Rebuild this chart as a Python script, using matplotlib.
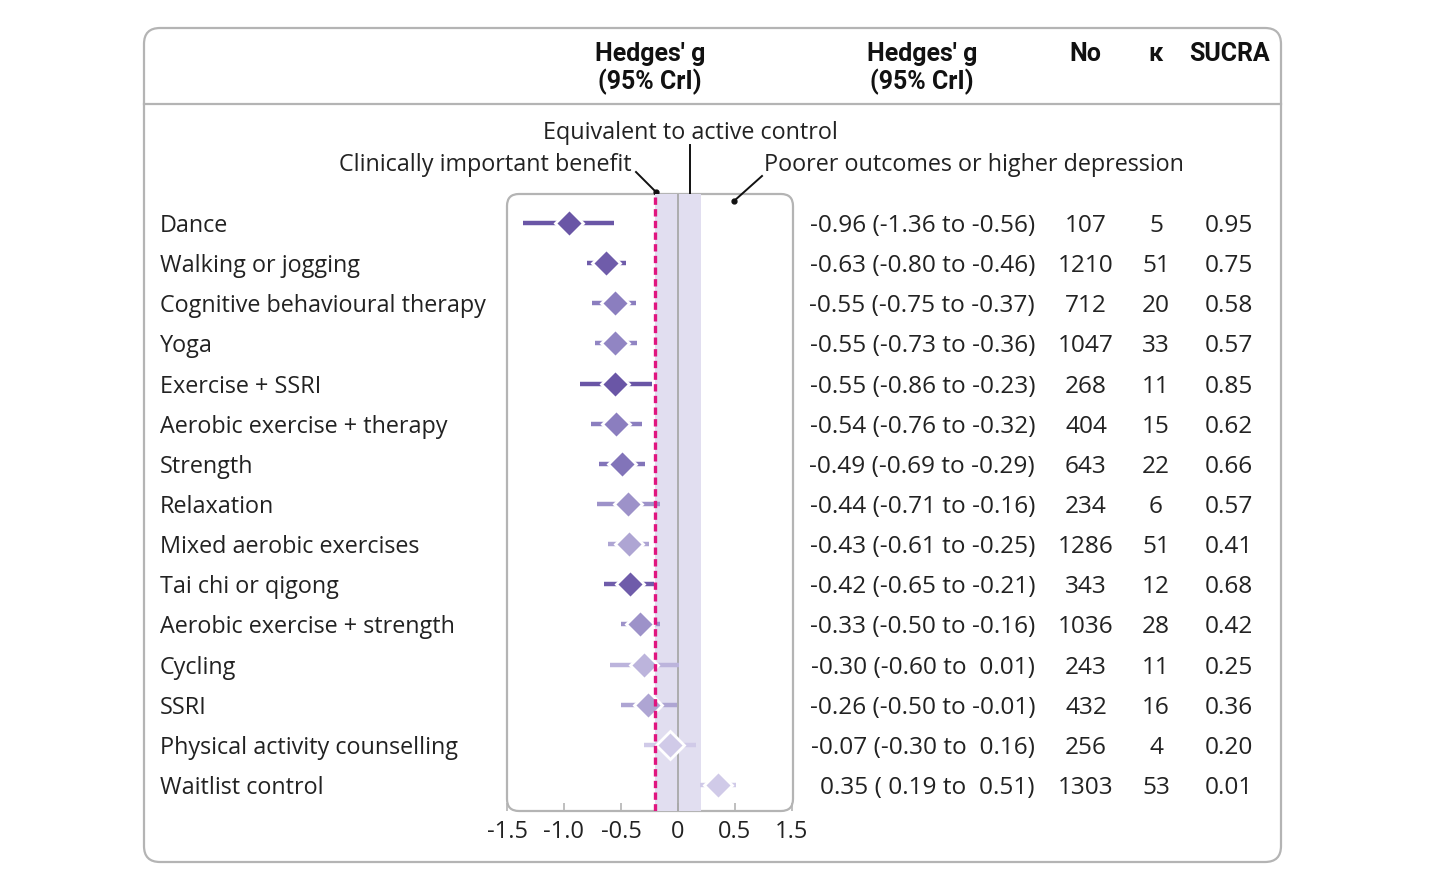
import numpy as np
import matplotlib
matplotlib.use('Agg')
import matplotlib.pyplot as plt
from matplotlib.patches import FancyBboxPatch

# data
treatments = ['Dance', 'Walking or jogging', 'Cognitive behavioural therapy', 'Yoga',
              'Exercise + SSRI', 'Aerobic exercise + therapy', 'Strength', 'Relaxation',
              'Mixed aerobic exercises', 'Tai chi or qigong', 'Aerobic exercise + strength',
              'Cycling', 'SSRI', 'Physical activity counselling', 'Waitlist control']
g_est = [-0.96, -0.63, -0.55, -0.55, -0.55, -0.54, -0.49, -0.44, -0.43, -0.42, -0.33, -0.30, -0.26, -0.07, 0.35]
g_low = [-1.36, -0.80, -0.75, -0.73, -0.86, -0.76, -0.69, -0.71, -0.61, -0.65, -0.50, -0.60, -0.50, -0.30, 0.19]
g_high = [-0.56, -0.46, -0.37, -0.36, -0.23, -0.32, -0.29, -0.16, -0.25, -0.21, -0.16, 0.01, -0.01, 0.16, 0.51]
n_participants = [107, 1210, 712, 1047, 268, 404, 643, 234, 1286, 343, 1036, 243, 432, 256, 1303]
n_studies = [5, 51, 20, 33, 11, 15, 22, 6, 51, 12, 28, 11, 16, 4, 53]
sucra = [0.95, 0.75, 0.58, 0.57, 0.85, 0.62, 0.66, 0.57, 0.41, 0.68, 0.42, 0.25, 0.36, 0.20, 0.01]

tick_pos = [-1.5, -1.0, -0.5, 0, 0.5, 1.0]
tick_labels = ['-1.5', '-1.0', '-0.5', '0', '0.5', '1.5']

# colour shade per row (as in reference)
row_colors = ['#6a56a6', '#6f5caa', '#8b7ebf', '#9185c3', '#6a56a6', '#8b7ebf', '#8274b9',
              '#9d92c9', '#aea5d3', '#6f5caa', '#9d92c9', '#bcb4dc', '#aea5d3', '#d0cae8', '#d0cae8']

plt.rcParams['font.family'] = ['Open Sans', 'DejaVu Sans']

W, H = 1431, 879
fig = plt.figure(figsize=(W / 100, H / 100), dpi=100)

# overlay axes in pixel coordinates
ov = fig.add_axes([0, 0, 1, 1], zorder=0)
ov.set_xlim(0, W)
ov.set_ylim(H, 0)
ov.axis('off')

ov.add_patch(FancyBboxPatch((144, 29), 1137, 834, boxstyle='round,pad=0,rounding_size=16',
                            fc='white', ec='#b4b4b4', lw=1.6))
ov.plot([144, 1281], [105, 105], color='#b4b4b4', lw=1.6)

hfont = dict(fontsize=18, fontweight='bold', ha='center', va='center', color='#111111',
             family=['Roboto', 'DejaVu Sans'])
ov.text(650, 54, "Hedges' g", **hfont)
ov.text(650, 82, "(95% CrI)", **hfont)
ov.text(922, 54, "Hedges' g", **hfont)
ov.text(922, 82, "(95% CrI)", **hfont)
ov.text(1085, 54, "No", **hfont)
ov.text(1156, 54, "κ", **hfont)
ov.text(1229, 54, "SUCRA", **hfont)

# forest plot box
ov.add_patch(FancyBboxPatch((507, 195), 286, 617, boxstyle='round,pad=0,rounding_size=12',
                            fc='white', ec='#b4b4b4', lw=1.6))

# forest axes
row_top, row_step = 224, 40.14
ax = fig.add_axes([507 / W, (H - 812) / H, 286 / W, 617 / H], zorder=1)
ax.patch.set_alpha(0)
ax.set_xlim(-1.5, 1.0088)
ax.set_ylim(14 + (812 - 786) / row_step, -(224 - 195) / row_step)
for s in ax.spines.values():
    s.set_visible(False)
ax.set_yticks([])
ax.set_xticks(tick_pos)
ax.set_xticklabels(tick_labels, fontsize=17, color='#222222')
ax.tick_params(axis='x', direction='in', length=6, width=1.2, color='#b4b4b4', pad=6)

ax.axvspan(-0.2, 0.2, color='#e1def0', zorder=1, lw=0)
ax.axvline(0, color='#a8a8a8', lw=1.3, zorder=2)
ax.axvline(-0.2, color='#e0157f', lw=2.4, ls=(0, (2.2, 1.3)), zorder=5)

ypos = np.arange(len(treatments))
for i in range(len(treatments)):
    ax.plot([g_low[i], g_high[i]], [ypos[i], ypos[i]], color=row_colors[i], lw=3.2,
            solid_capstyle='butt', zorder=3)
    ax.plot(g_est[i], ypos[i], marker='D', ms=14, color=row_colors[i],
            mec='white', mew=2.0, zorder=4)

# row labels and columns
tfont = dict(fontsize=16.8, va='center', color='#222222')
nfont = dict(fontsize=17.6, va='center', color='#222222')
for i in range(len(treatments)):
    y = row_top + 2 + i * row_step
    ov.text(160, y, treatments[i], ha='left', **tfont)
    txt = '%.2f (%5.2f to %5.2f)' % (g_est[i], g_low[i], g_high[i])
    ov.text(1035, y, txt, ha='right', **nfont)
    ov.text(1086, y, str(n_participants[i]), ha='center', **nfont)
    ov.text(1156, y, str(n_studies[i]), ha='center', **nfont)
    ov.text(1229, y, '%.2f' % sucra[i], ha='center', **nfont)

# annotations
afont = dict(fontsize=16.8, va='center', color='#222222')
ov.text(690, 133, 'Equivalent to active control', ha='center', **afont)
ov.plot([690, 690], [146, 202], color='#111111', lw=1.4)
ov.plot(690, 202, 'o', color='#111111', ms=3.5)
ov.text(632, 165, 'Clinically important benefit', ha='right', **afont)
ov.plot([636, 656], [173, 193], color='#111111', lw=1.4)
ov.plot(656, 193, 'o', color='#111111', ms=3.5)
ov.text(764, 165, 'Poorer outcomes or higher depression', ha='left', **afont)
ov.plot([762, 734], [177, 202], color='#111111', lw=1.4)
ov.plot(734, 202, 'o', color='#111111', ms=3.5)

fig.savefig('out.png', dpi=100)
